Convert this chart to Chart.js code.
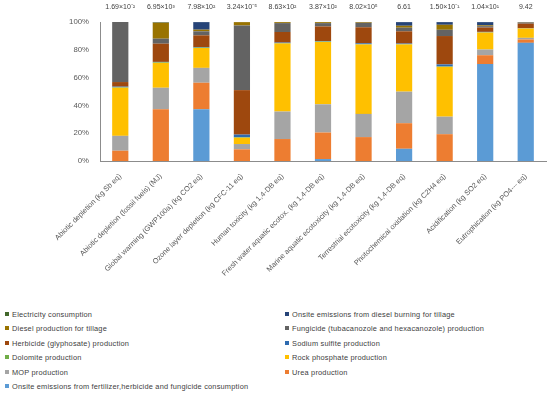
<!DOCTYPE html>
<html>
<head>
<meta charset="utf-8">
<script src="https://cdn.jsdelivr.net/npm/chart.js@4/dist/chart.umd.min.js"></script>
<style>
  body { margin: 0; background: #fff; font-family: "Liberation Sans", Arial, sans-serif; }
  #wrap { position: relative; width: 550px; height: 300px; }
  #legend { position: absolute; left: 0; top: 310px; width: 550px; }
  .item { position: absolute; font-size: 7.4px; letter-spacing: 0.2px; color: #404040; white-space: nowrap; line-height: 10px; }
  .item span.box { display: inline-block; width: 4px; height: 4px; margin-right: 3px; vertical-align: 1px; }
</style>
</head>
<body>
<div id="wrap"><canvas id="lca"></canvas></div>
<div id="legend"></div>
<script>
const categories = [
    'Abiotic depletion (kg Sb eq)',
    'Abiotic depletion (fossil fuels) (MJ)',
    'Global warming (GWP100a) (kg CO2 eq)',
    'Ozone layer depletion (kg CFC-11 eq)',
    'Human toxicity (kg 1,4-DB eq)',
    'Fresh water aquatic ecotox. (kg 1,4-DB eq)',
    'Marine aquatic ecotoxicity (kg 1,4-DB eq)',
    'Terrestrial ecotoxicity (kg 1,4-DB eq)',
    'Photochemical oxidation (kg C2H4 eq)',
    'Acidification (kg SO2 eq)',
    'Eutrophication (kg PO4--- eq)'
];

const totals = ['1.69×10⁻²', '6.95×10³', '7.98×10²', '3.24×10⁻⁵', '8.63×10²', '3.87×10²',
    '8.02×10⁵', '6.61', '1.50×10⁻¹', '1.04×10¹', '9.42'];

// shares in %, bottom of the stack first
const onsiteFertilizer = [0, 0, 37.2, 0, 0, 1.4, 0, 8.8, 0, 69.7, 85.0];
const urea = [7.4, 37.2, 19.1, 8.4, 15.8, 19.1, 17.2, 18.4, 19.3, 6.4, 2.4];
const mop = [10.7, 15.5, 10.7, 3.8, 19.8, 20.3, 16.7, 22.7, 12.6, 4.1, 1.2];
const rockPhosphate = [34.6, 17.9, 14.3, 4.5, 48.9, 44.9, 49.9, 33.9, 35.8, 12.2, 6.7];
const dolomite = [0.3, 0.4, 0.3, 0.4, 0.3, 0.3, 0.2, 0.3, 0.3, 0.2, 0.1];
const sodiumSulfite = [0.5, 0.3, 0.4, 1.9, 0.4, 0.3, 0.7, 0.4, 1.5, 0.3, 0.1];
const herbicide = [3.3, 13.1, 8.4, 32.0, 7.6, 10.5, 11.5, 8.8, 20.4, 3.1, 3.3];
const fungicide = [43.2, 3.6, 2.9, 46.5, 6.4, 2.4, 3.2, 2.6, 4.5, 1.0, 0.9];
const dieselProduction = [0, 11.5, 1.2, 2.4, 0.7, 0.7, 0.5, 1.4, 3.6, 0.6, 0.2];
const onsiteDiesel = [0, 0.2, 5.4, 0.1, 0.1, 0.1, 0.1, 2.6, 1.9, 2.3, 0];
const electricity = [0, 0.3, 0.1, 0, 0, 0, 0, 0.1, 0.1, 0.1, 0.1];

const series = [
    { label: 'Onsite emissions from fertilizer,herbicide and fungicide consumption', data: onsiteFertilizer, color: '#5b9bd5' },
    { label: 'Urea production', data: urea, color: '#ed7d31' },
    { label: 'MOP production', data: mop, color: '#a5a5a5' },
    { label: 'Rock phosphate production', data: rockPhosphate, color: '#ffc000' },
    { label: 'Dolomite production', data: dolomite, color: '#70ad47' },
    { label: 'Sodium sulfite production', data: sodiumSulfite, color: '#2e6bb0' },
    { label: 'Herbicide (glyphosate) production', data: herbicide, color: '#9e480e' },
    { label: 'Fungicide (tubacanozole and hexacanozole) production', data: fungicide, color: '#636363' },
    { label: 'Diesel production for tillage', data: dieselProduction, color: '#997300' },
    { label: 'Onsite emissions from diesel burning for tillage', data: onsiteDiesel, color: '#264478' },
    { label: 'Electricity consumption', data: electricity, color: '#43682b' }
];

const FONT = '"Liberation Sans", Arial, sans-serif';
const TEXT = '#595959';

const totalsPlugin = {
    id: 'totals',
    afterDraw: chart => {
        const ctx = chart.ctx;
        const x = chart.scales.x;
        ctx.save();
        ctx.font = '7px ' + FONT;
        ctx.fillStyle = '#404040';
        ctx.textAlign = 'center';
        ctx.textBaseline = 'middle';
        totals.forEach((t, i) => ctx.fillText(t, x.getPixelForValue(i), 7));
        ctx.restore();
    }
};

new Chart(document.getElementById('lca'), {
    type: 'bar',
    data: {
        labels: categories,
        datasets: series.map(s => ({
            label: s.label,
            data: s.data,
            backgroundColor: s.color,
            borderWidth: 0,
            categoryPercentage: 1,
            barPercentage: 0.4
        }))
    },
    options: {
        responsive: true,
        maintainAspectRatio: false,
        animation: false,
        layout: { padding: { top: 22, right: 4, left: 0, bottom: 0 } },
        plugins: { legend: { display: false }, tooltip: { enabled: false } },
        scales: {
            x: {
                stacked: true,
                grid: { display: false },
                border: { display: true, color: '#8c8c8c', width: 1 },
                ticks: {
                    autoSkip: false,
                    minRotation: 45,
                    maxRotation: 45,
                    color: TEXT,
                    font: { family: FONT, size: 7.4 }
                },
                afterFit: axis => { axis.height = 139; }
            },
            y: {
                stacked: true,
                min: 0,
                max: 100,
                grid: { display: false },
                border: { display: true, color: '#8c8c8c', width: 1 },
                ticks: {
                    stepSize: 20,
                    color: TEXT,
                    font: { family: FONT, size: 7.8 },
                    callback: v => v + '%'
                },
                afterFit: axis => { axis.width = 100; }
            }
        }
    },
    plugins: [totalsPlugin]
});

// legend in two columns, reversed order like the original
const legend = document.getElementById('legend');
series.slice().reverse().forEach((s, i) => {
    const el = document.createElement('div');
    el.className = 'item';
    el.style.left = (i % 2 === 0 ? 5 : 285) + 'px';
    el.style.top = (Math.floor(i / 2) * 14.4) + 'px';
    el.innerHTML = '<span class="box" style="background:' + s.color + '"></span>' + s.label;
    legend.appendChild(el);
});
</script>
</body>
</html>
